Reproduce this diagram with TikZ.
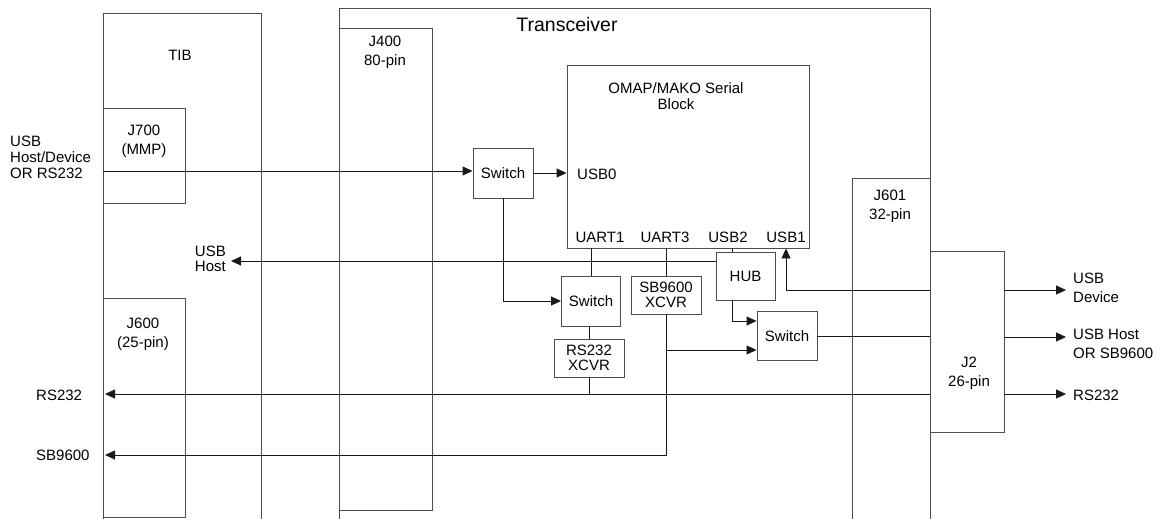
\documentclass[tikz,border=0pt]{standalone}
\usepackage{fontspec}
\setmainfont{Liberation Sans}
\usetikzlibrary{arrows.meta,positioning}

\definecolor{boxline}{gray}{0.30}
\definecolor{wireline}{gray}{0.10}

\begin{document}
\begin{tikzpicture}[
    x=1pt, y=-1pt,
    every node/.style={font=\fontsize{15}{17}\selectfont},
    blk/.style  ={rectangle,draw=boxline,line width=0.9pt,inner sep=0pt,
                  align=center},
    txt/.style  ={align=center,inner sep=0pt},
    tall/.style ={font=\fontsize{15}{19}\selectfont},
    tight/.style={font=\fontsize{15}{15.5}\selectfont},
    wire/.style ={draw=wireline,line width=0.9pt},
    feed/.style ={wire,-{Triangle[length=10pt,width=9pt]}},
  ]
  \useasboundingbox (0,0) rectangle (1167,519);
  \clip (0,0) rectangle (1167,519);

  % Boards and connectors
  \node[blk,minimum width=158pt,minimum height=547pt] (tib)  at (182,286.5) {};
  \node[blk,minimum width=591pt,minimum height=552pt] (trx)  at (634.5,284) {};
  \node[blk,minimum width=93pt, minimum height=482pt] (j400) at (385.5,269) {};
  \node[blk,minimum width=242pt,minimum height=183pt] (omap) at (688,156.5) {};
  \node[blk,minimum width=78pt, minimum height=382pt] (j601) at (891,369) {};
  \node[blk,minimum width=74pt, minimum height=181pt] (j2)   at (967,341.5) {};
  \node[blk,minimum width=82pt, minimum height=95pt]  (j700) at (144,155.5) {};
  \node[blk,minimum width=82pt, minimum height=219pt] (j600) at (144,407.5) {};

  % Switches and transceivers
  \node[blk,minimum width=60pt,minimum height=50pt] (swA) at (503,173) {Switch};
  \node[blk,minimum width=59pt,minimum height=50pt] (swB) at (591,301) {Switch};
  \node[blk,tight,minimum width=70pt,minimum height=38pt] (rsx) at (589,358) {RS232\\XCVR};
  \node[blk,tight,minimum width=70pt,minimum height=38pt] (sbx) at (666,295) {SB9600\\XCVR};
  \node[blk,minimum width=59pt,minimum height=48pt] (hub) at (745.5,276) {HUB};
  \node[blk,minimum width=60pt,minimum height=49pt] (swC) at (787,336) {Switch};

  % Titles
  \node[txt,font=\fontsize{19.5}{22}\selectfont] (trxT) at (567,25) {Transceiver};
  \node[txt] (tibT) at (180,55) {TIB};
  \node[txt,tall] (j400T) at (385,52) {J400\\80-pin};
  \node[txt,tight] (omapT) at (676,96) {OMAP/MAKO Serial\\Block};
  \node[txt,tall] (j601T) at (890,206) {J601\\32-pin};
  \node[txt,tall] (j2T)   at (969,373) {J2\\26-pin};
  \node[txt,tall] (j700T) at (144,141) {J700\\(MMP)};
  \node[txt,tall] (j600T) at (143,334) {J600\\(25-pin)};

  % Port names
  \node[txt,anchor=west] (usb0)  at (577,174) {USB0};
  \node[txt] (uart1) at (600,237) {UART1};
  \node[txt] (uart3) at (665,237) {UART3};
  \node[txt] (usb2)  at (728,237) {USB2};
  \node[txt] (usb1)  at (786,237) {USB1};

  % Outside signals
  \node[txt,align=left,anchor=west,font=\fontsize{15}{16}\selectfont]
        (inL) at (10,157) {USB\\Host/Device\\OR RS232};
  \node[txt,inner xsep=5pt,anchor=east,font=\fontsize{15}{15}\selectfont]
        (hostL) at (231,259) {USB\\Host};
  \node[txt,anchor=west] (rsL) at (36,395) {RS232};
  \node[txt,anchor=west] (sbL) at (36,455) {SB9600};
  \node[txt,tall,align=left,anchor=west] (devR)  at (1073,288) {USB\\Device};
  \node[txt,tall,align=left,anchor=west] (hostR) at (1073,344) {USB Host\\OR SB9600};
  \node[txt,anchor=west] (rsR) at (1073,395) {RS232};

  \coordinate (inA)  at (103,171);
  \coordinate (rsE)  at (105,394);
  \coordinate (sbE)  at (105,455);
  \coordinate (tipA) at (1066,290);
  \coordinate (tipB) at (1066,337);
  \coordinate (tipC) at (1066,394);
  \coordinate (upIn)  at ([yshift=15pt]swC.west);
  \coordinate (lowIn) at ([yshift=-14pt]swC.west);

  % USB0 path
  \draw[feed] (inA) -- (inA -| swA.west);
  \draw[feed] (swA.east) -- (swA.east -| omap.west);
  \draw[feed] (swA.south) |- (swB.west);

  % UART1 / RS232
  \draw[wire] (swB.north) -- (swB.north |- omap.south);
  \draw[wire] (rsx.north) -- (rsx.north |- swB.south);
  \draw[wire] (rsx.south) -- (rsx.south |- rsE);
  \draw[feed] (rsE -| j2.west) -- (rsE);

  % UART3 / SB9600
  \draw[wire] (sbx.north) -- (sbx.north |- omap.south);
  \draw[feed] (sbx.south) |- (sbE);
  \draw[feed] (sbx.south |- lowIn) -- (lowIn);

  % USB2 through the hub
  \draw[wire] ([xshift=-13pt]hub.north) -- ([xshift=-13pt]hub.north |- omap.south);
  \draw[feed] ([yshift=15pt]hub.west) -- ([yshift=15pt]hub.west -| hostL.east);
  \draw[feed] ([xshift=-13pt]hub.south) |- (upIn);
  \draw[wire] (swC.east) -- (swC.east -| j2.west);

  % USB1
  \draw[feed] (j2.west |- tipA) -| (omap.south -| usb1);

  % J2 outputs
  \draw[feed] (j2.east |- tipA) -- (tipA);
  \draw[feed] (j2.east |- tipB) -- (tipB);
  \draw[feed] (j2.east |- tipC) -- (tipC);
\end{tikzpicture}
\end{document}
